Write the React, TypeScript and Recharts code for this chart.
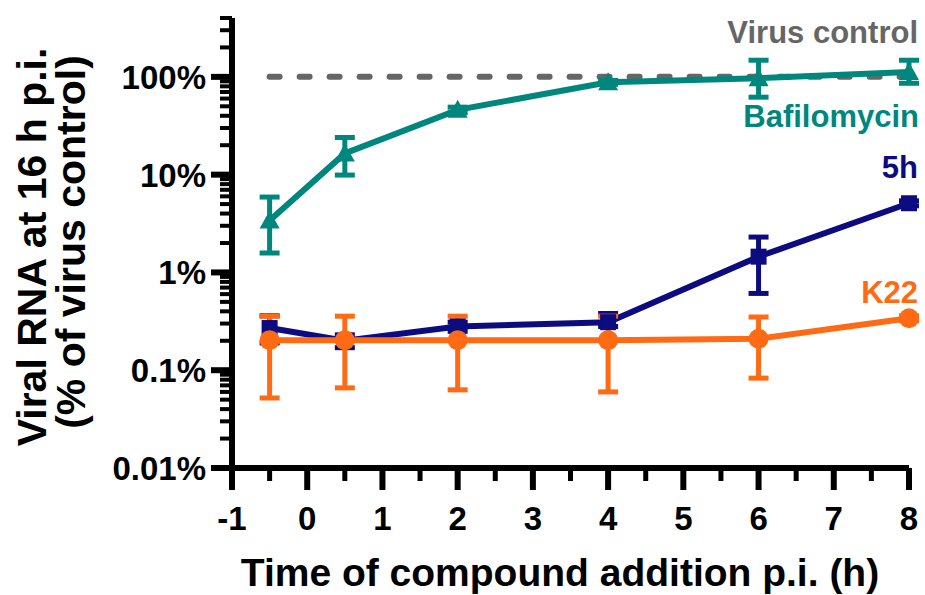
import { ComposedChart, ErrorBar, Line, XAxis, YAxis } from 'recharts'

const TEAL = '#00877d'
const NAVY = '#0c0c80'
const ORANGE = '#ff6a14'
const GREY = '#666666'
const FONT = '"Liberation Sans", Arial, sans-serif'

// time of compound addition (h p.i.)
const timePoints = [-0.5, 0.5, 2, 4, 6, 8]

// viral RNA, % of virus control
const bafilomycin = [3.4, 16.5, 46, 88, 97, 112]
const bafilomycinLow = [1.58, 9.9, 43, 84, 62, 86]
const bafilomycinHigh = [5.9, 24, 49, 92, 148, 148]

const fiveH = [0.27, 0.2, 0.28, 0.31, 1.45, 5.1]
const fiveHLow = [0.19, 0.17, 0.25, 0.28, 0.61, 4.8]
const fiveHHigh = [0.36, 0.23, 0.31, 0.38, 2.3, 5.4]

const k22 = [0.203, 0.203, 0.203, 0.203, 0.21, 0.34]
const k22Low = [0.052, 0.066, 0.063, 0.06, 0.083, 0.32]
const k22High = [0.357, 0.357, 0.357, 0.357, 0.35, 0.36]

const virusControl = [100, 100, 100, 100, 100, 100]

const xMajorTicks = [-1, 0, 1, 2, 3, 4, 5, 6, 7, 8]
const xMinorTicks = [-0.5, 0.5, 1.5, 2.5, 3.5, 4.5, 5.5, 6.5, 7.5]
const yMajorTicks = [0.01, 0.1, 1, 10, 100]
const yMinorTicks = [
  0.02, 0.03, 0.04, 0.05, 0.06, 0.07, 0.08, 0.09,
  0.2, 0.3, 0.4, 0.5, 0.6, 0.7, 0.8, 0.9,
  2, 3, 4, 5, 6, 7, 8, 9,
  20, 30, 40, 50, 60, 70, 80, 90,
  200, 300, 400,
]
const yLabels = ['0.01%', '0.1%', '1%', '10%', '100%']

const err = (v: number[], lo: number[], hi: number[], i: number) => [v[i] - lo[i], hi[i] - v[i]]

const data = timePoints.map((t, i) => ({
  t,
  vc: virusControl[i],
  baf: bafilomycin[i],
  bafErr: err(bafilomycin, bafilomycinLow, bafilomycinHigh, i),
  h5: fiveH[i],
  h5Err: err(fiveH, fiveHLow, fiveHHigh, i),
  k22: k22[i],
  k22Err: err(k22, k22Low, k22High, i),
}))

function XTick(props: any) {
  const { x, y, payload } = props
  const major = xMajorTicks.includes(payload.value)
  return (
    <g>
      <line x1={x} x2={x} y1={y} y2={y + (major ? 22 : 13)} stroke="#000" strokeWidth={major ? 6 : 5} />
      {major && (
        <text x={x} y={y + 62} textAnchor="middle" fontFamily={FONT} fontWeight="bold" fontSize={33} fill="#000">
          {payload.value}
        </text>
      )}
    </g>
  )
}

function YTick(props: any) {
  const { x, y, payload } = props
  const idx = yMajorTicks.indexOf(payload.value)
  const major = idx >= 0
  return (
    <g>
      <line x1={x - (major ? 21 : 12)} x2={x} y1={y} y2={y} stroke="#000" strokeWidth={major ? 6 : 4} />
      {major && (
        <text x={x - 26} y={y + 12} textAnchor="end" fontFamily={FONT} fontWeight="bold" fontSize={33} fill="#000">
          {yLabels[idx]}
        </text>
      )}
    </g>
  )
}

const Triangle = (props: any) => {
  const { cx, cy, index } = props
  return <path key={index} d={`M${cx},${cy - 10} L${cx + 10},${cy + 8} L${cx - 10},${cy + 8} Z`} fill={TEAL} />
}
const Square = (props: any) => {
  const { cx, cy, index } = props
  return <rect key={index} x={cx - 8} y={cy - 8} width={16} height={16} fill={NAVY} />
}
const Dot = (props: any) => {
  const { cx, cy, index } = props
  return <circle key={index} cx={cx} cy={cy} r={10} fill={ORANGE} />
}

export default function App() {
  return (
    <div style={{ position: 'absolute', left: 0, top: 0, width: 925, height: 595, background: '#fff' }}>
      <ComposedChart width={925} height={595} data={data} margin={{ top: 18, right: 16, bottom: 0, left: 0 }}>
        <XAxis
          dataKey="t"
          type="number"
          domain={[-1, 8]}
          ticks={[...xMajorTicks, ...xMinorTicks].sort((a, b) => a - b)}
          interval={0}
          tick={<XTick />}
          tickLine={false}
          tickSize={0}
          tickMargin={0}
          height={127}
          axisLine={{ stroke: '#000', strokeWidth: 6 }}
        />
        <YAxis
          type="number"
          scale="log"
          domain={[0.01, 400]}
          allowDataOverflow
          ticks={[...yMajorTicks, ...yMinorTicks].sort((a, b) => a - b)}
          interval={0}
          tick={<YTick />}
          tickLine={false}
          tickSize={0}
          tickMargin={0}
          width={232}
          axisLine={{ stroke: '#000', strokeWidth: 6 }}
        />
        <Line
          dataKey="vc"
          stroke={GREY}
          strokeWidth={6}
          strokeDasharray="10 20"
          strokeLinecap="round"
          dot={false}
          activeDot={false}
          isAnimationActive={false}
        />
        <Line dataKey="baf" stroke={TEAL} strokeWidth={6} dot={<Triangle />} activeDot={false} isAnimationActive={false}>
          <ErrorBar dataKey="bafErr" direction="y" width={10} strokeWidth={5} stroke={TEAL} isAnimationActive={false} />
        </Line>
        <Line dataKey="h5" stroke={NAVY} strokeWidth={6} dot={<Square />} activeDot={false} isAnimationActive={false}>
          <ErrorBar dataKey="h5Err" direction="y" width={10} strokeWidth={5} stroke={NAVY} isAnimationActive={false} />
        </Line>
        <Line dataKey="k22" stroke={ORANGE} strokeWidth={6} dot={<Dot />} activeDot={false} isAnimationActive={false}>
          <ErrorBar dataKey="k22Err" direction="y" width={10} strokeWidth={5} stroke={ORANGE} isAnimationActive={false} />
        </Line>
      </ComposedChart>
      <svg
        width={925}
        height={595}
        style={{ position: 'absolute', left: 0, top: 0, pointerEvents: 'none' }}
        fontFamily={FONT}
        fontWeight="bold"
      >
        <text transform="translate(46,247) rotate(-90)" textAnchor="middle" fontSize={41} fill="#000">
          Viral RNA at 16 h p.i.
        </text>
        <text transform="translate(85,242) rotate(-90)" textAnchor="middle" fontSize={41} fill="#000">
          (% of virus control)
        </text>
        <text x={560} y={586} textAnchor="middle" fontSize={39} fill="#000">
          Time of compound addition p.i. (h)
        </text>
        <text x={918} y={43} textAnchor="end" fontSize={31} fill={GREY}>Virus control</text>
        <text x={919} y={127} textAnchor="end" fontSize={31} fill={TEAL}>Bafilomycin</text>
        <text x={918} y={178} textAnchor="end" fontSize={31} fill={NAVY}>5h</text>
        <text x={918} y={303} textAnchor="end" fontSize={31} fill={ORANGE}>K22</text>
      </svg>
    </div>
  )
}
